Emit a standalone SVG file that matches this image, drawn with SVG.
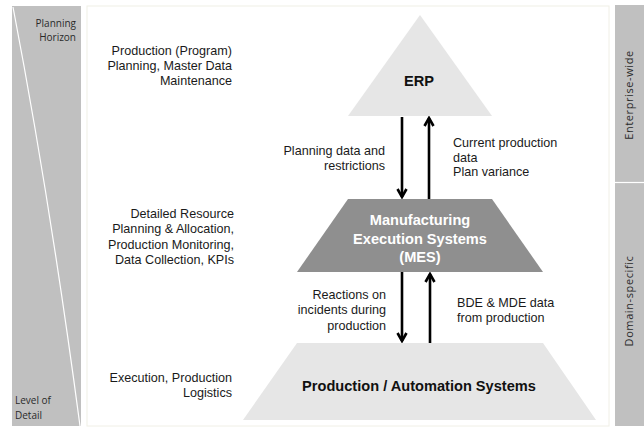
<svg xmlns="http://www.w3.org/2000/svg" width="644" height="431" viewBox="0 0 644 431">
<style>
.lbl{font-family:"Liberation Sans",Arial,sans-serif;font-size:12.6px;fill:#1a1a1a}
.side{font-family:"Open Sans","Liberation Sans",sans-serif;font-size:10px;fill:#2a2a2a}
.vert{font-family:"Open Sans","Liberation Sans",sans-serif;font-size:11px;letter-spacing:0.6px;fill:#2a2a2a;text-anchor:middle}
.node{font-family:"Liberation Sans",Arial,sans-serif;font-size:14.6px;font-weight:bold;text-anchor:middle}
.conn{stroke:#000;stroke-width:2.6;fill:none}
.r{text-anchor:end}
</style>
<defs>
<marker id="ah" markerUnits="userSpaceOnUse" viewBox="0 0 12 12" refX="10" refY="6" markerWidth="12" markerHeight="12" orient="auto">
<path d="M2,1.5 L10,6 L2,10.5" fill="none" stroke="#000" stroke-width="2.6"/>
</marker>
</defs>
<rect width="644" height="431" fill="#fff"/>
<g id="side-left">
<rect x="12" y="6" width="69" height="420" fill="#c0c0c0"/>
<path d="M13,7 Q50,200 80,426" stroke="#fff" stroke-width="1.2" fill="none"/>
<text class="side r" x="76" y="27">Planning</text>
<text class="side r" x="76" y="41">Horizon</text>
<text class="side" x="15" y="404">Level of</text>
<text class="side" x="15" y="419">Detail</text>
</g>
<rect x="87" y="6" width="522" height="420" fill="#fff" stroke="#f0efe6" stroke-width="1"/>
<g id="side-right">
<rect x="615" y="5" width="29" height="421" fill="#c0c0c0"/>
<line x1="615" y1="182.5" x2="644" y2="182.5" stroke="#fff" stroke-width="1.2"/>
<text class="vert" transform="translate(633,95) rotate(-90)">Enterprise-wide</text>
<text class="vert" transform="translate(633,301) rotate(-90)">Domain-specific</text>
</g>
<g id="erp">
<polygon points="420,15 348,116 492,116" fill="#e6e6e6"/>
<text class="node" x="419" y="86" fill="#111">ERP</text>
</g>
<g id="mes">
<polygon points="348,199 492,199 543,272 297,272" fill="#8f8f8f"/>
<text class="node" x="420" y="225" fill="#fff">Manufacturing</text>
<text class="node" x="420" y="244" fill="#fff">Execution Systems</text>
<text class="node" x="420" y="262" fill="#fff">(MES)</text>
</g>
<g id="production">
<polygon points="297,343 543,343 596,420 243,420" fill="#e6e6e6"/>
<text class="node" x="419" y="391" fill="#111">Production / Automation Systems</text>
</g>
<g id="connectors">
<line class="conn" x1="402" y1="117" x2="402" y2="197" marker-end="url(#ah)"/>
<line class="conn" x1="429" y1="199" x2="429" y2="118" marker-end="url(#ah)"/>
<line class="conn" x1="402" y1="272" x2="402" y2="341" marker-end="url(#ah)"/>
<line class="conn" x1="430" y1="343" x2="430" y2="274" marker-end="url(#ah)"/>
</g>
<g id="labels">
<text class="lbl r" x="232" y="55">Production (Program)</text>
<text class="lbl r" x="232" y="70">Planning, Master Data</text>
<text class="lbl r" x="232" y="85">Maintenance</text>
<text class="lbl r" x="234" y="218">Detailed Resource</text>
<text class="lbl r" x="234" y="233">Planning &amp; Allocation,</text>
<text class="lbl r" x="234" y="249">Production Monitoring,</text>
<text class="lbl r" x="234" y="264">Data Collection, KPIs</text>
<text class="lbl r" x="232" y="382">Execution, Production</text>
<text class="lbl r" x="232" y="397">Logistics</text>
<text class="lbl r" x="385" y="155">Planning data and</text>
<text class="lbl r" x="385" y="170">restrictions</text>
<text class="lbl" x="453" y="147">Current production</text>
<text class="lbl" x="453" y="162">data</text>
<text class="lbl" x="453" y="176">Plan variance</text>
<text class="lbl r" x="386" y="299">Reactions on</text>
<text class="lbl r" x="386" y="314">incidents during</text>
<text class="lbl r" x="386" y="330">production</text>
<text class="lbl" x="457" y="307">BDE &amp; MDE data</text>
<text class="lbl" x="457" y="322">from production</text>
</g>
</svg>
